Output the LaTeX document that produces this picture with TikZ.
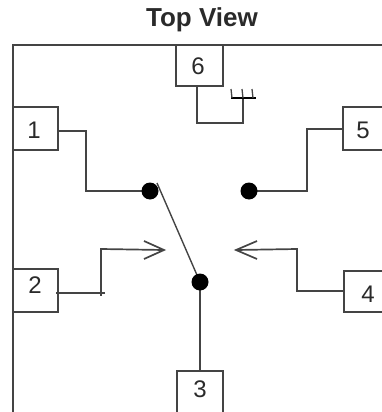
\documentclass[tikz,border=0pt]{standalone}
\usepackage{fontspec}
\setmainfont{Liberation Sans}
\definecolor{ink}{HTML}{444444}
\definecolor{txt}{HTML}{2A2A2A}
\tikzset{
  wire/.style={draw=ink,line width=1.7pt,line join=miter},
  pinbox/.style={draw=ink,line width=1.7pt,fill=white,inner sep=0pt,outer sep=0pt},
  digit/.style={text=txt,font=\fontsize{24}{24}\selectfont,inner sep=0pt},
  contact/.style={circle,fill=black,draw=none,minimum size=17pt,inner sep=0pt,outer sep=0pt},
  title/.style={text=txt,font=\fontsize{26}{26}\selectfont\bfseries,inner sep=0pt}
}
\begin{document}
\begin{tikzpicture}[x=1pt,y=-1pt]
\useasboundingbox (0,0) rectangle (382,412);
\clip (0,0) rectangle (382,412);
\node[title] (title) at (202,20) {Top View};
\draw[wire] (13,420) |- (390,45);
% pin boxes
\node[pinbox,minimum width=45pt,minimum height=43pt] (p1) at (35.5,128.5) {};
\node[pinbox,minimum width=45pt,minimum height=43pt] (p2) at (35.5,290.5) {};
\node[pinbox,minimum width=46pt,minimum height=50pt] (p3) at (200,396) {};
\node[pinbox,minimum width=60pt,minimum height=41pt] (p4) at (374,291.5) {};
\node[pinbox,minimum width=60pt,minimum height=43pt] (p5) at (373,128.5) {};
\node[pinbox,minimum width=47pt,minimum height=41pt] (p6) at (199.5,65.5) {};
\node[digit] (d1) at (34,130) {1};
\node[digit] (d2) at (35,285) {2};
\node[digit] (d3) at (200,389) {3};
\node[digit] (d4) at (368,294) {4};
\node[digit] (d5) at (363,130) {5};
\node[digit] (d6) at (198,66) {6};
% arrow tips and free ends
\coordinate (a2) at (164,250);
\coordinate (a4) at (236,250);
\coordinate (sw) at (157,183);
\coordinate (g) at (243,98);
% contact positions
\coordinate (k1) at (150,191);
\coordinate (k5) at (249,191);
\coordinate (k3) at (200,282);
% wiring
\draw[wire] (p1.east |- 0,131) -- (86,131) |- (k1);
\draw[wire] (p5.west |- 0,129) -- (307,129) |- (k5);
\draw[wire] (56,293) -- (101,293) -- (101,249) -- (a2);
\draw[wire] (144,241) -- (a2) -- (144,259);
\draw[wire] (105,293) -- (101,293) -- (101,296);
\draw[wire] (p4.west |- 0,291) -- (297,291) -- (297,249) -- (a4);
\draw[wire] (257,241) -- (a4) -- (257,259);
\draw[wire] (k3) -- (k3 |- p3.north);
\draw[wire,line width=1.4pt] (sw) -- (k3);
\draw[wire] (197,86) -- (197,123) -- (243,123) -- (g);
% ground symbol
\draw[wire,draw=black,line width=2.2pt] (231,98) -- (256,98);
\draw[wire,line width=1.3pt] (232,98) -- (231,89) (243,98) -- (242,89) (253,98) -- (252,89);
% contacts
\node[contact] (c1) at (k1) {};
\node[contact] (c5) at (k5) {};
\node[contact] (c3) at (k3) {};
\end{tikzpicture}
\end{document}
